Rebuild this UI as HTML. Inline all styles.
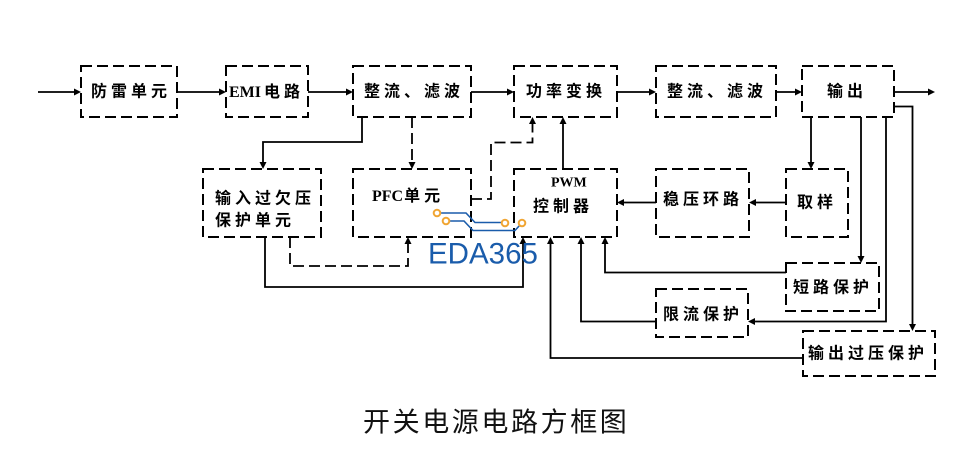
<!DOCTYPE html>
<html><head><meta charset="utf-8"><style>
html,body{margin:0;padding:0;background:#fff;}
svg{display:block;}
text{font-family:"Liberation Sans","Noto Sans CJK SC",sans-serif;fill:#000;}
.t{font-size:16px;letter-spacing:4px;dominant-baseline:central;font-weight:600;}
</style></head><body>
<svg width="967" height="472" viewBox="0 0 967 472" xmlns="http://www.w3.org/2000/svg">
<rect x="0" y="0" width="967" height="472" fill="#fff"/>
<g fill="none" stroke="#000" stroke-width="2" stroke-dasharray="11 5">
<rect x="81" y="66" width="96" height="51"/>
<rect x="226" y="66" width="82" height="51"/>
<rect x="353" y="66" width="118" height="51"/>
<rect x="514" y="66" width="103" height="51"/>
<rect x="656" y="66" width="120" height="51"/>
<rect x="802" y="66" width="92" height="51"/>
<rect x="203" y="169" width="118" height="68"/>
<rect x="353" y="169" width="118" height="68"/>
<rect x="514" y="169" width="103" height="68"/>
<rect x="656" y="169" width="93" height="68"/>
<rect x="786" y="169" width="62" height="68"/>
<rect x="786" y="263" width="93" height="48"/>
<rect x="656" y="289" width="92" height="48"/>
<rect x="803" y="331" width="132" height="45"/>
</g>
<g fill="none" stroke="#000" stroke-width="1.8">
<path d="M38 92 H76"/>
<path d="M177 92 H221"/>
<path d="M308 92 H348"/>
<path d="M471 92 H509"/>
<path d="M617 92 H651"/>
<path d="M776 92 H797"/>
<path d="M894 92 H930"/>
<path d="M362 117 V142 H263 V164"/>
<path d="M563 169 V122"/>
<path d="M656 202.5 H622"/>
<path d="M786 202.5 H754"/>
<path d="M811 117 V164"/>
<path d="M861 117 V258"/>
<path d="M886 117 V321.5 H753"/>
<path d="M894 106.5 H912.5 V326"/>
<path d="M786 272.5 H605 V242"/>
<path d="M656 321.5 H581 V242"/>
<path d="M803 358 H550.5 V242"/>
<path d="M265 237 V287 H523 V242"/>
</g>
<g fill="none" stroke="#000" stroke-width="1.8" stroke-dasharray="11 5">
<path d="M412 117 V164"/>
<path d="M471 199 H491 V142.5 H532.5 V122"/>
<path d="M290 237 V266 H408 V242"/>
</g>
<g fill="#000">
<polygon points="74,88.5 74,95.5 81,92"/>
<polygon points="219,88.5 219,95.5 226,92"/>
<polygon points="346,88.5 346,95.5 353,92"/>
<polygon points="507,88.5 507,95.5 514,92"/>
<polygon points="649,88.5 649,95.5 656,92"/>
<polygon points="795,88.5 795,95.5 802,92"/>
<polygon points="928,88.5 928,95.5 935,92"/>
<polygon points="259.5,162 266.5,162 263,169"/>
<polygon points="408.5,162 415.5,162 412,169"/>
<polygon points="807.5,162 814.5,162 811,169"/>
<polygon points="857.5,256 864.5,256 861,263"/>
<polygon points="909,324 916,324 912.5,331"/>
<polygon points="529,124 536,124 532.5,117"/>
<polygon points="559.5,124 566.5,124 563,117"/>
<polygon points="601.5,244 608.5,244 605,237"/>
<polygon points="577.5,244 584.5,244 581,237"/>
<polygon points="547,244 554,244 550.5,237"/>
<polygon points="519.5,244 526.5,244 523,237"/>
<polygon points="404.5,244 411.5,244 408,237"/>
<polygon points="624,199 624,206 617,202.5"/>
<polygon points="756,199 756,206 749,202.5"/>
<polygon points="755,318 755,325 748,321.5"/>
</g>
<text class="t" x="91" y="92">防雷单元</text>
<text class="t" x="229" y="92"><tspan style="font-size:16px;letter-spacing:0px;font-family:'Liberation Serif',serif;font-weight:bold">EMI</tspan><tspan dx="3">电路</tspan></text>
<text class="t" x="364" y="92">整流、滤波</text>
<text class="t" x="526" y="92">功率变换</text>
<text class="t" x="667" y="92">整流、滤波</text>
<text class="t" x="827" y="92">输出</text>
<text class="t" x="215" y="199">输入过欠压</text>
<text class="t" x="215" y="221">保护单元</text>
<text class="t" x="372" y="196"><tspan style="font-size:16px;letter-spacing:0px;font-family:'Liberation Serif',serif;font-weight:bold">PFC</tspan><tspan dx="1">单元</tspan></text>
<text class="t" x="551" y="183" style="font-size:14px;letter-spacing:0px;font-family:'Liberation Serif',serif;font-weight:bold">PWM</text>
<text class="t" x="533" y="207">控制器</text>
<text class="t" x="663" y="200">稳压环路</text>
<text class="t" x="797" y="203">取样</text>
<text class="t" x="793" y="288">短路保护</text>
<text class="t" x="663" y="315">限流保护</text>
<text class="t" x="808" y="354">输出过压保护</text>
<text x="363" y="422.5" style="font-size:27px;letter-spacing:2.6px;dominant-baseline:central;fill:#111">开关电源电路方框图</text>
<g fill="none" stroke="#1a5cab" stroke-width="1.6">
<path d="M440.5 213 H466 L475 222.5 H501.5"/>
<path d="M449.5 221 H464 L473 230.5 H515 L519.5 225.5"/>
</g>
<g fill="#fff" stroke="#f0a533" stroke-width="2">
<circle cx="437" cy="213" r="3.3"/>
<circle cx="446" cy="221" r="3.3"/>
<circle cx="505" cy="223" r="3.3"/>
<circle cx="522" cy="223" r="3.3"/>
</g>
<text x="428" y="263.5" style="font-size:29.5px;fill:#1a5cab;font-family:'Liberation Sans',sans-serif">EDA365</text>
</svg>
</body></html>
